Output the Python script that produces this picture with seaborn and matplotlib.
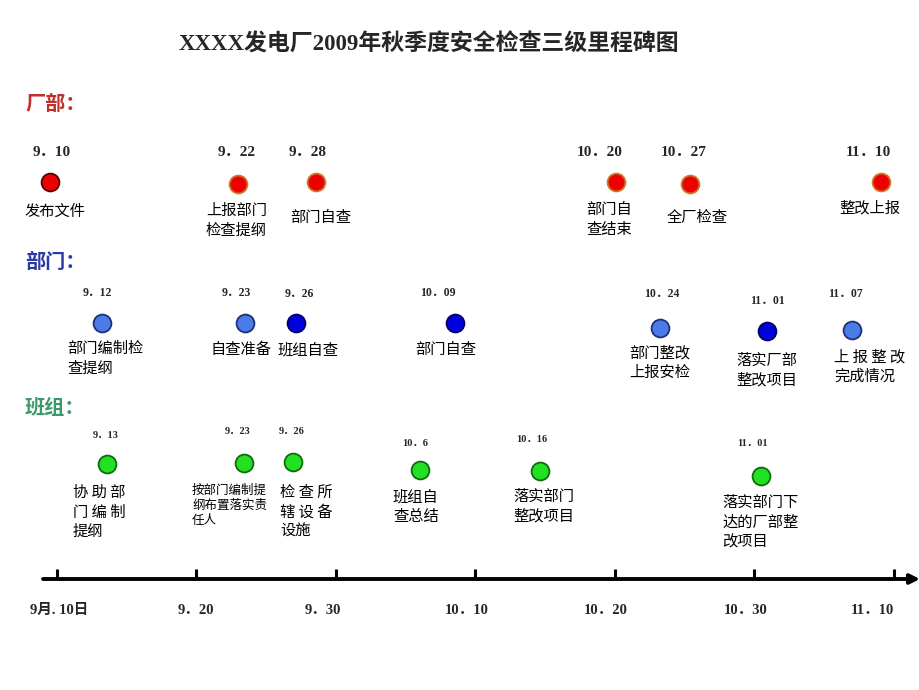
import numpy as np
import pandas as pd
import seaborn as sns
import matplotlib.pyplot as plt

sns.set_theme(style="white")
plt.rcParams['font.family'] = ['Noto Sans CJK SC', 'DejaVu Sans']
SERIF = ['Liberation Serif', 'Noto Sans CJK SC']
CJK = ['Noto Sans CJK SC', 'DejaVu Sans']

# ---- data (x = days after 9.10) ----
factory_dates = ['9．10', '9．22', '9．28', '10．20', '10．27', '11．10']
factory_days = [-0.5, 13.0, 18.6, 40.1, 45.4, 59.1]
factory_tasks = ['发布文件', '上报部门\n检查提纲', '部门自查', '部门自\n查结束', '全厂检查', '整改上报']
factory_kind = ['red_dark', 'red', 'red', 'red', 'red', 'red']

dept_dates = ['9．12', '9．23', '9．26', '10．09', '10．24', '11．01', '11．07']
dept_days = [3.2, 13.5, 17.1, 28.5, 43.2, 50.9, 57.0]
dept_tasks = ['部门编制检\n查提纲', '自查准备', '班组自查', '部门自查',
              '部门整改\n上报安检', '落实厂部\n整改项目', '上 报 整 改\n完成情况']
dept_kind = ['blue_light', 'blue_light', 'blue', 'blue', 'blue_light', 'blue', 'blue_light']

team_dates = ['9．13', '9．23', '9．26', '10．6', '10．16', '11．01']
team_days = [3.6, 13.4, 16.9, 26.0, 34.6, 50.5]
team_tasks = ['协 助 部\n门 编 制\n提纲', '按部门编制提\n纲布置落实责\n任人', '检 查 所\n辖 设 备\n设施',
              '班组自\n查总结', '落实部门\n整改项目', '落实部门下\n达的厂部整\n改项目']
team_kind = ['green'] * 6

axis_days = [0, 10, 20, 30, 40, 50, 60]
axis_labels = ['9月. 10日', '9．20', '9．30', '10．10', '10．20', '10．30', '11．10']

# ---- layout (pixels) ----
X0, PXD = 57, 13.95


def px2day(px):
    return (px - X0) / PXD


factory_dot_y = [182, 184, 182, 182, 184, 182]
factory_lab = [(52, 152), (237, 152), (308, 152), (600, 152), (684, 152), (868, 152)]
factory_desc = [(25, 203), (206, 202), (290, 209), (586, 201), (667, 209), (839, 199)]

dept_dot_y = [323, 323, 323, 323, 328, 331, 330]
dept_lab = [(97, 293), (236, 293), (299, 294), (438, 293), (662, 294), (767, 301), (845, 294)]
dept_desc = [(67, 340), (211, 341), (278, 341), (415, 341), (629, 344), (736, 352), (834, 348)]

team_dot_y = [464, 463, 462, 470, 471, 476]
team_lab = [(106, 436), (238, 432), (292, 432), (415, 443), (532, 440), (752, 443)]
team_desc = [(73, 484), (192, 484), (280, 484), (393, 488), (513, 488), (722, 494)]

fills = {'red_dark': '#ee0000', 'red': '#ee0000', 'blue_light': '#4a7ce8',
         'blue': '#0000dd', 'green': '#22e022'}
edges = {'red_dark': '#5a0000', 'red': '#d0782a', 'blue_light': '#1f2f7a',
         'blue': '#000066', 'green': '#106a10'}

groups = [
    (factory_dates, factory_days, factory_tasks, factory_kind, factory_dot_y, factory_lab, factory_desc, 11, 11),
    (dept_dates, dept_days, dept_tasks, dept_kind, dept_dot_y, dept_lab, dept_desc, 8.5, 11),
    (team_dates, team_days, team_tasks, team_kind, team_dot_y, team_lab, team_desc, 7.5, 11),
]

fig = plt.figure(figsize=(9.2, 6.9), dpi=100)
ax = fig.add_axes([0, 0, 1, 1])
ax.set_xlim(px2day(0), px2day(920))
ax.set_ylim(690, 0)
ax.axis('off')

for dates, days, tasks, kinds, dot_y, labs, descs, lab_fs, desc_fs in groups:
    df = pd.DataFrame({'day': days, 'y': dot_y, 'kind': kinds})
    for k, sub in df.groupby('kind'):
        sns.scatterplot(data=sub, x='day', y='y', color=fills[k], edgecolor=edges[k],
                        linewidth=1.3, s=165, ax=ax, legend=False, zorder=3)
    for i, d in enumerate(dates):
        lx, ly = labs[i]
        ax.text(px2day(lx), ly, d, ha='center', va='center', fontsize=lab_fs,
                fontweight='bold', family=SERIF)
        tx, ty = descs[i]
        fs = 9 if tasks[i].startswith('按部门') else desc_fs
        ax.text(px2day(tx), ty, tasks[i], ha='left', va='top', fontsize=fs,
                family=CJK, linespacing=1.2, color='black')

# section headers
ax.text(px2day(25), 103, '厂部：', color='#c0302a', fontsize=14.5, fontweight='bold', va='center', family=CJK)
ax.text(px2day(25), 261, '部门：', color='#2a3aa6', fontsize=14.5, fontweight='bold', va='center', family=CJK)
ax.text(px2day(25), 408, '班组：', color='#3a9a6e', fontsize=14.5, fontweight='bold', va='center', family=CJK)

# title
ax.text(px2day(429), 45, 'XXXX发电厂2009年秋季度安全检查三级里程碑图', ha='center', va='center',
        fontsize=16.5, fontweight='bold', family=SERIF)

# time axis
ax.annotate('', xy=(px2day(920), 579), xytext=(px2day(43), 579), annotation_clip=False,
            arrowprops=dict(arrowstyle='-|>', lw=2.8, color='black', mutation_scale=14,
                            shrinkA=0, shrinkB=0))
ax.vlines(axis_days, 569, 579, color='black', lw=2.2)
axis_lab_x = [59, 196, 323, 467, 606, 746, 872]
for x, lab in zip(axis_lab_x, axis_labels):
    ax.text(px2day(x), 610, lab, ha='center', va='center', fontsize=10.5,
            fontweight='bold', family=SERIF)

fig.savefig('out.png', dpi=100, facecolor='white')
